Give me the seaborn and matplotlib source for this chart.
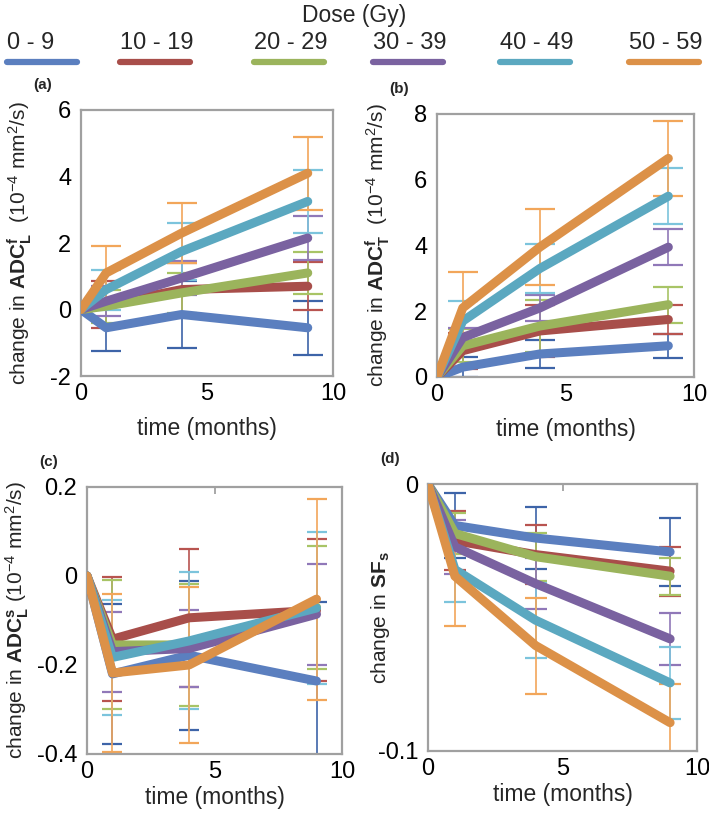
"""
Change in diffusion parameters over time, by dose bin (4 panels)
"""
import numpy as np
import pandas as pd
import matplotlib
matplotlib.use('Agg')
import matplotlib.pyplot as plt
import seaborn as sns
from matplotlib.lines import Line2D

sns.set_style('white')
plt.rcParams['font.family'] = ['Liberation Sans', 'DejaVu Sans']
plt.rcParams['mathtext.fontset'] = 'custom'
plt.rcParams['mathtext.rm'] = 'Liberation Sans'
plt.rcParams['mathtext.it'] = 'Liberation Sans:italic'
plt.rcParams['mathtext.bf'] = 'Liberation Sans:bold'

# ---- data ----
time = [0, 1, 4, 9]
doses = ['0 - 9', '10 - 19', '20 - 29', '30 - 39', '40 - 49', '50 - 59']

# (a) ADC^f_L
adcf_l_mean = [
    [0, -0.55, -0.15, -0.55],
    [0, 0.15, 0.60, 0.70],
    [0, 0.10, 0.50, 1.10],
    [0, 0.25, 0.95, 2.15],
    [0, 0.60, 1.75, 3.25],
    [0, 1.10, 2.30, 4.10],
]
adcf_l_err = [
    [0, 0.70, 1.00, 0.82],
    [0, 0.70, 0.80, 0.72],
    [0, 0.50, 0.60, 0.62],
    [0, 0.45, 0.50, 0.65],
    [0, 0.60, 0.85, 0.95],
    [0, 0.80, 0.90, 1.10],
]

# (b) ADC^f_T
adcf_t_mean = [
    [0, 0.30, 0.70, 0.95],
    [0, 0.80, 1.40, 1.75],
    [0, 0.95, 1.55, 2.20],
    [0, 1.20, 2.10, 3.95],
    [0, 1.70, 3.30, 5.50],
    [0, 2.10, 3.95, 6.65],
]
adcf_t_err = [
    [0, 0.30, 0.42, 0.36],
    [0, 0.55, 0.80, 0.45],
    [0, 0.50, 0.80, 0.55],
    [0, 0.30, 0.40, 0.55],
    [0, 0.60, 0.75, 0.85],
    [0, 1.10, 1.15, 1.15],
]

# (c) ADC^s_L
adcs_l_mean = [
    [0, -0.220, -0.178, -0.236],
    [0, -0.142, -0.094, -0.077],
    [0, -0.155, -0.155, -0.070],
    [0, -0.170, -0.163, -0.086],
    [0, -0.183, -0.146, -0.072],
    [0, -0.218, -0.200, -0.052],
]
adcs_l_err = [
    [0, 0.157, 0.167, 0.178],
    [0, 0.140, 0.155, 0.160],
    [0, 0.145, 0.137, 0.138],
    [0, 0.090, 0.086, 0.113],
    [0, 0.130, 0.154, 0.170],
    [0, 0.178, 0.175, 0.226],
]

# (d) SF_s
sfs_mean = [
    [0, -0.0155, -0.0202, -0.0254],
    [0, -0.0212, -0.0264, -0.0326],
    [0, -0.0185, -0.0272, -0.0345],
    [0, -0.0235, -0.0373, -0.0580],
    [0, -0.0320, -0.0510, -0.0745],
    [0, -0.0345, -0.0605, -0.0894],
]
sfs_err = [
    [0, 0.0120, 0.0116, 0.0128],
    [0, 0.0110, 0.0110, 0.0092],
    [0, 0.0078, 0.0090, 0.0070],
    [0, 0.0100, 0.0095, 0.0098],
    [0, 0.0120, 0.0140, 0.0135],
    [0, 0.0185, 0.0180, 0.0145],
]

line_colors = ['#5B7FBF', '#A84E4A', '#9BB45C', '#7A62A0', '#5BA8C0', '#DC9148']
err_colors = ['#3D64A8', '#B85450', '#A8C466', '#9078B8', '#7CC4DC', '#F2A65A']
palette = dict(zip(doses, line_colors))


def long_df(mean):
    rows = []
    for d, vals in zip(doses, mean):
        for t, v in zip(time, vals):
            rows.append({'time': t, 'dose': d, 'value': v})
    return pd.DataFrame(rows)


panels = [
    dict(mean=adcf_l_mean, err=adcf_l_err, ylim=(-2, 6), yticks=[-2, 0, 2, 4, 6],
         ylabel=r'change in $\mathbf{ADC}^{\mathbf{f}}_{\mathbf{L}}$  (10$^{-4}$ mm$^{2}$/s)',
         tag='(a)', pos=[0.1142, 0.5392, 0.3554, 0.326], cap=11, toptick=False,
         xpad=9, labx=-0.245),
    dict(mean=adcf_t_mean, err=adcf_t_err, ylim=(0, 8), yticks=[0, 2, 4, 6, 8],
         ylabel=r'change in $\mathbf{ADC}^{\mathbf{f}}_{\mathbf{T}}$  (10$^{-4}$ mm$^{2}$/s)',
         tag='(b)', pos=[0.6164, 0.5380, 0.3625, 0.3223], cap=11, toptick=False,
         xpad=9, labx=-0.23),
    dict(mean=adcs_l_mean, err=adcs_l_err, ylim=(-0.4, 0.2), yticks=[-0.4, -0.2, 0, 0.2],
         ylabel=r'change in $\mathbf{ADC}^{\mathbf{s}}_{\mathbf{L}}$ (10$^{-4}$ mm$^{2}$/s)',
         tag='(c)', pos=[0.1227, 0.0760, 0.3597, 0.3272], cap=7, toptick=True,
         xpad=2, labx=-0.275),
    dict(mean=sfs_mean, err=sfs_err, ylim=(-0.1, 0), yticks=[-0.1, 0],
         ylabel=r'change in $\mathbf{SF}_{\mathbf{s}}$',
         tag='(d)', pos=[0.6037, 0.0797, 0.3794, 0.327], cap=8, toptick=True,
         xpad=2, labx=-0.175),
]

fig = plt.figure(figsize=(7.09, 8.16), dpi=100)

for p in panels:
    ax = fig.add_axes(p['pos'])
    # error bars behind the lines
    for i, d in enumerate(doses):
        ax.errorbar(time[1:], p['mean'][i][1:], yerr=p['err'][i][1:], fmt='none',
                    ecolor=err_colors[i], elinewidth=1.2, capsize=p['cap'],
                    capthick=1.6, zorder=1)
    df = long_df(p['mean'])
    sns.lineplot(data=df, x='time', y='value', hue='dose', palette=palette,
                 hue_order=doses, estimator=None, sort=False, lw=6.5,
                 solid_capstyle='round', solid_joinstyle='round',
                 legend=False, ax=ax, zorder=3)
    ax.set_xlim(0, 10)
    ax.set_ylim(*p['ylim'])
    ax.set_xticks([0, 5, 10])
    ax.set_yticks(p['yticks'])
    ax.set_yticklabels([f'{v:g}' for v in p['yticks']])
    ax.set_xlabel('time (months)', fontsize=16.5, labelpad=p['xpad'])
    ax.set_ylabel(p['ylabel'], fontsize=15, va='center')
    ax.yaxis.set_label_coords(p['labx'], 0.5)
    ax.tick_params(axis='both', labelsize=17, colors='#999999', labelcolor='black')
    ax.tick_params(axis='y', length=5, width=1.2, direction='out', pad=2)
    ax.tick_params(axis='x', length=0, pad=5)
    if p['toptick']:
        ax.tick_params(axis='x', top=True, length=5, width=1.2, direction='in')
    for s in ax.spines.values():
        s.set_color('#A0A0A0')
        s.set_linewidth(1.6)
    x0, y0 = p['pos'][0], p['pos'][1] + p['pos'][3]
    fig.text(x0 - 0.068, y0 + 0.031, p['tag'], fontsize=11, fontweight='bold',
             ha='left', va='center')

# legend across the top
fig.text(0.5, 0.981, 'Dose (Gy)', fontsize=16.5, ha='center', va='center')
legend_x = [7, 120, 254, 373, 500, 629]
for lx, d, c in zip(legend_x, doses, line_colors):
    fig.text(lx / 709, 1 - 43 / 816, d, fontsize=17, ha='left', va='center')
    fig.add_artist(Line2D([lx / 709, (lx + 70) / 709], [1 - 62 / 816] * 2,
                          color=c, lw=4.5, transform=fig.transFigure))

fig.savefig('out.png', dpi=100)
